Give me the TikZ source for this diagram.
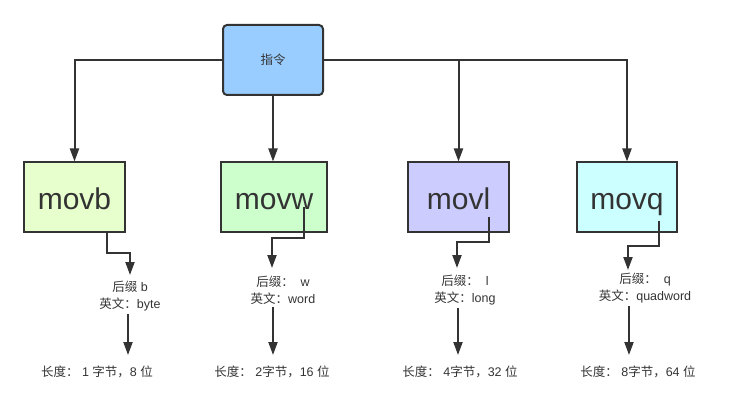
\documentclass[tikz,border=0pt]{standalone}
\usepackage{fontspec}
\setmainfont{Liberation Sans}
\newfontfamily\cjk{Noto Sans CJK SC}
\newcommand{\zh}[1]{{\cjk #1}}
\usetikzlibrary{arrows.meta}

\definecolor{ink}{RGB}{51,51,51}
\tikzstyle{line}=[draw=ink, line width=2pt, -{Triangle[length=13pt,width=9pt]}]
\tikzstyle{box}=[rectangle, draw=ink, line width=2pt, minimum height=70pt, text=ink,
                 text height=30pt, text depth=5pt, font=\fontsize{30}{32}\selectfont]
\tikzstyle{info}=[align=center, text=ink, inner sep=0pt, font=\fontsize{12.5}{17}\selectfont]

\begin{document}
\begin{tikzpicture}[x=1pt, y=-1pt]
      \useasboundingbox (0,0) rectangle (729,409);
      \node[box, rounded corners=4pt, minimum width=100pt, fill={rgb,255:red,153;green,204;blue,255},
            text height=, text depth=, font=\cjk\fontsize{12.5}{14}\selectfont] (instr) at (273,60) {指令};
      \node[box, minimum width=101pt, fill={rgb,255:red,230;green,255;blue,204}] (movb) at (74.5,197.5) {movb};
      \node[box, minimum width=106pt, fill={rgb,255:red,204;green,255;blue,204}] (movw) at (274,197.5)  {movw};
      \node[box, minimum width=101pt, fill={rgb,255:red,204;green,204;blue,255}] (movl) at (458.5,197.5) {movl};
      \node[box, minimum width=100pt, fill={rgb,255:red,204;green,255;blue,255}] (movq) at (627,197.5)  {movq};
      \draw[line] (instr.west)  -| (movb.north);
      \draw[line] (instr.south) -- (instr.south |- movw.north);
      \draw[line] (instr.east)  -| (movl.north);
      \draw[line] (instr.east)  -| (movq.north);

      \node[info] (sufb) at (130,296) {\zh{后缀} b\\\zh{英文：}byte};
      \node[info] (sufw) at (283,290) {\zh{后缀：}\ \ w\\\zh{英文：}word};
      \node[info] (sufl) at (465,290) {\zh{后缀：}\ \ l\\\zh{英文：}long};
      \node[info] (sufq) at (645,288) {\zh{后缀：}\ \ q\\\zh{英文：}quadword};
      \coordinate (bs) at (107,231);  \coordinate (bt) at (130,275);
      \coordinate (ws) at (304,207);  \coordinate (wt) at (272,268);
      \coordinate (ls) at (489,217);  \coordinate (lt) at (457,268);
      \coordinate (qs) at (659,221);  \coordinate (qt) at (628,270);
      \draw[line] (bs) |- (130,253) -- (bt);
      \draw[line] (ws) |- (272,238) -- (wt);
      \draw[line] (ls) |- (457,242) -- (lt);
      \draw[line] (qs) |- (628,246) -- (qt);

      \node[info] (lenb) at (97,372)  {\zh{长度：}\ 1 \zh{字节，}8 \zh{位}};
      \node[info] (lenw) at (272,372) {\zh{长度：}\ 2\zh{字节，}16 \zh{位}};
      \node[info] (lenl) at (460,372) {\zh{长度：}\ 4\zh{字节，}32 \zh{位}};
      \node[info] (lenq) at (638,372) {\zh{长度：}\ 8\zh{字节，}64 \zh{位}};
      \draw[line] ([yshift=-3pt]128,0 |- sufb.south) -- (128,355);
      \draw[line] ([yshift=-3pt]273,0 |- sufw.south) -- (273,355);
      \draw[line] ([yshift=-3pt]458,0 |- sufl.south) -- (458,355);
      \draw[line] ([yshift=-3pt]629,0 |- sufq.south) -- (629,355);
    \end{tikzpicture}
\end{document}
